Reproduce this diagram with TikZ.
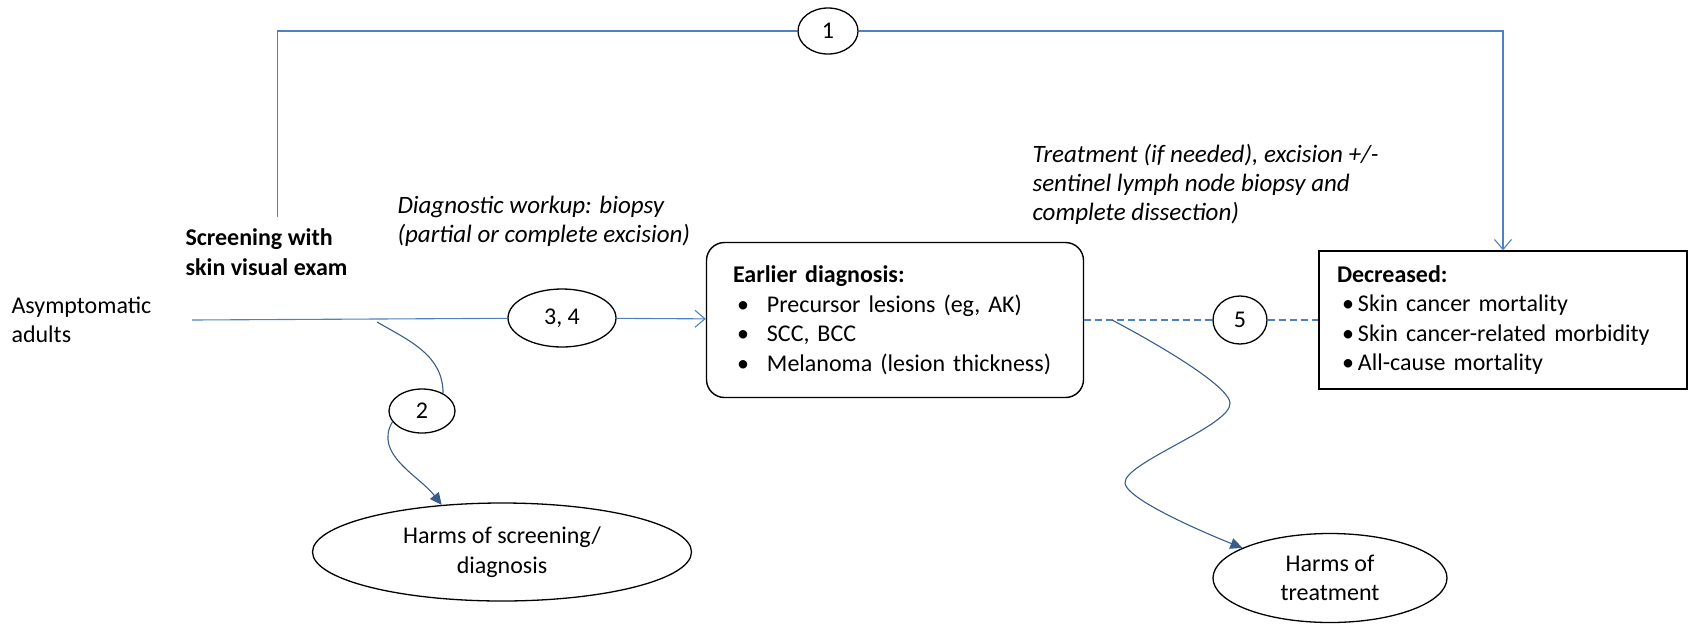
\documentclass[tikz,border=0pt]{standalone}
\usepackage{fontspec}
\setmainfont{Carlito}
\usetikzlibrary{arrows.meta,shapes.geometric}
\definecolor{linea}{RGB}{79,129,189}
\definecolor{curva}{RGB}{56,93,138}

\begin{document}
\begin{tikzpicture}[x=1pt,y=-1pt,font=\fontsize{24}{29.5}\selectfont,
    num/.style={draw,ellipse,line width=1.3pt,inner sep=0pt},
    nota/.style={align=left,anchor=west,font=\fontsize{25}{29}\selectfont\itshape},
    flecha/.style={linea,line width=1.1pt,-{Straight Barb[length=10pt,width=17pt]}},
    dano/.style={curva,line width=1.1pt,-{Triangle[length=12pt,width=11pt]}}]
    \useasboundingbox (0,0) rectangle (1690,625);

    \node[align=left,anchor=west] (asym) at (8,320) {Asymptomatic\\adults};
    \node[align=left,anchor=west,font=\fontsize{24}{29.5}\selectfont\bfseries,inner ysep=12pt] (screen) at (182,252) {Screening with\\skin visual exam};
    \node[nota] (diag) at (394,221) {Diagnostic workup: biopsy\\(partial or complete excision)};
    \node[nota] (treat) at (1029,184) {Treatment (if needed), excision +/-\\sentinel lymph node biopsy and\\complete dissection)};

    \node[num,minimum width=108pt,minimum height=58pt] (c34) at (562,318) {3, 4};
    \node[num,minimum width=60pt,minimum height=46pt] (c1) at (828,31) {1};
    \node[num,minimum width=66pt,minimum height=44pt] (c2) at (422,411) {2};
    \node[num,minimum width=54pt,minimum height=48pt] (c5) at (1240,320) {5};

    \node[draw,line width=1.4pt,rounded corners=18pt,minimum width=377pt,minimum height=155pt,
        text width=324pt,align=left] (early) at (895,320) {%
        \textbf{Earlier diagnosis:}\\
        \hspace*{4pt}\makebox[30pt][l]{•}Precursor lesions (eg, AK)\\
        \hspace*{4pt}\makebox[30pt][l]{•}SCC, BCC\\
        \hspace*{4pt}\makebox[30pt][l]{•}Melanoma (lesion thickness)};
    \node[draw,line width=1.4pt,minimum width=368pt,minimum height=138pt,
        text width=332pt,align=left] (decr) at (1503,320) {%
        \textbf{Decreased:}\\
        \hspace*{5pt}\makebox[16pt][l]{•}Skin cancer mortality\\
        \hspace*{5pt}\makebox[16pt][l]{•}Skin cancer-related morbidity\\
        \hspace*{5pt}\makebox[16pt][l]{•}All-cause mortality};

    \node[num,minimum width=379pt,minimum height=98pt,align=center] (harm1) at (502,552) {Harms of screening/\\diagnosis};
    \node[num,minimum width=234pt,minimum height=89pt,align=center] (harm2) at (1330,578) {Harms of\\treatment};

    \coordinate (inicio) at (192,320);
    \coordinate (split1) at (377,322);
    \coordinate (split2) at (1112,320);

    \draw[linea,line width=1.1pt] ([xshift=11pt]screen.north) |- (c1);
    \draw[flecha] (c1) -| (decr);
    \draw[linea,line width=1.1pt] (inicio) -- (c34);
    \draw[flecha] (c34) -- (early);
    \draw[linea,line width=1.1pt,dash pattern=on 7pt off 4pt] (early) -- (c5);
    \draw[linea,line width=1.1pt,dash pattern=on 7pt off 4pt] (c5) -- (decr);

    % curvas hacia los danos
    \draw[curva,line width=1.1pt] (split1) to[out=-30,in=90] (c2.40);
    \draw[dano] (c2.200) to[out=240,in=128] (harm1.142);
    \draw[dano] plot[smooth] coordinates {
            (split2)
            (1230,403)
            (1125,483)
            (harm2.161)
    };
\end{tikzpicture}
\end{document}
